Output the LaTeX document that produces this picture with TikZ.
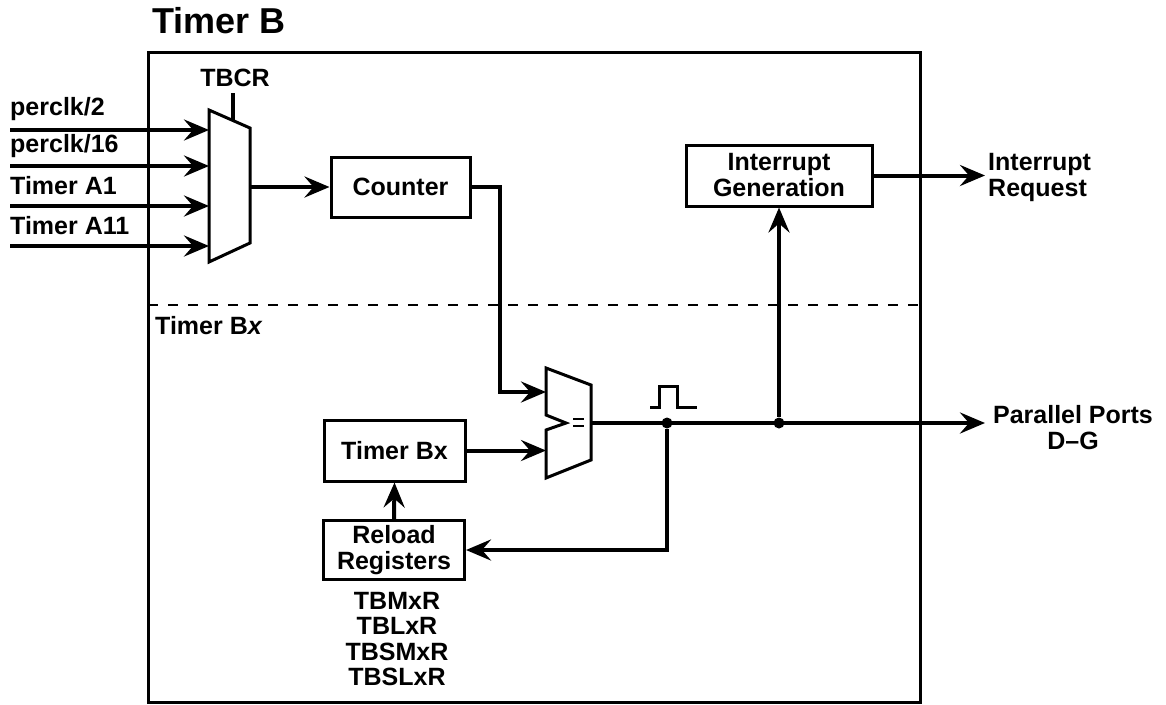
\documentclass[tikz,border=0pt]{standalone}
\usepackage{fontspec}
\setmainfont{Liberation Sans}
\usetikzlibrary{arrows.meta}
\begin{document}
\begin{tikzpicture}[x=1pt,y=-1pt,
  wire/.style={line width=4pt, line join=miter},
  arr/.style={wire, -{Stealth[length=25pt,width=21pt,inset=9pt]}},
  outline/.style={line width=3pt, line join=miter},
  box/.style={draw, line width=3pt, inner sep=0pt, align=center, font=\fontsize{25}{26}\selectfont\bfseries},
  lbl/.style={inner sep=0pt, font=\fontsize{25}{26}\selectfont\bfseries},
  jdot/.style={circle, fill, inner sep=0pt, minimum size=11pt}]
\useasboundingbox (0,0) rectangle (1166,704);
% title and frame
\node[inner sep=0pt, anchor=base west, font=\fontsize{36}{38}\selectfont\bfseries] (title) at (152,33) {Timer B};
\draw[outline] (148,52) rectangle (920,702);
\coordinate (dl) at (148,305);
\coordinate (dr) at (920,305);
\draw[line width=2pt, dash pattern=on 10pt off 10pt] (dl) -- (dr);
\node[lbl, anchor=base west] (tbx) at (155,334) {Timer B\textit{x}};
% input mux
\draw[outline] (209,110) -- (250,128) -- (250,243) -- (209,262) -- cycle;
\coordinate (sel) at (233,120);
\node[lbl, anchor=base] (tbcr) at (235,86) {TBCR};
\draw[wire] (233,93) -- (sel);
\foreach \y/\t/\b [count=\i] in {130/perclk\slash 2/115, 166/perclk\slash 16/152, 206/Timer A1/194, 246/Timer A11/234}{
  \node[lbl, anchor=base west] (lab\i) at (10,\b) {\t};
  \coordinate (src\i) at (10,\y);
  \coordinate (mi\i) at (209,\y);
  \draw[arr] (src\i) -- (mi\i);
}
\coordinate (mout) at (250,187);
% counter
\node[box, minimum width=139pt, minimum height=60pt] (counter) at (400.5,187) {Counter};
\draw[arr] (mout) -- (counter.west);
% comparator
\draw[outline] (546,368) -- (591,385) -- (591,460) -- (546,478) -- (546,430) -- (566,423) -- (546,415) -- cycle;
\draw[line width=2.5pt] (573,419) -- (584,419) (573,426) -- (584,426);
\coordinate (ca) at (546,392);
\coordinate (cb) at (546,450.5);
\coordinate (cout) at (591,423);
\coordinate (bend) at (500,392);
\draw[arr] (counter.east) -| (bend) -- (ca);
% timer Bx and reload
\node[box, minimum width=141pt, minimum height=61pt] (timerbx) at (394.5,450.5) {Timer Bx};
\draw[arr] (timerbx.east) -- (cb);
\node[box, minimum width=141pt, minimum height=59pt] (reload) at (394,550) {Reload\\Registers};
\draw[arr] (reload.north) -- (timerbx.south);
\node[lbl, anchor=north, align=center, font=\fontsize{25}{25.5}\selectfont\bfseries] (regs) at (397,592) {TBMxR\\TBLxR\\TBSMxR\\TBSLxR};
% output path
\node[jdot] (j1) at (667,423) {};
\node[jdot] (j2) at (779,423) {};
\coordinate (pp) at (985,423);
\draw[arr] (cout) -- (pp);
\node[lbl, anchor=north, align=center] (pptext) at (1073,405) {Parallel Ports\\D--G};
\draw[line width=3pt, line join=miter] (650,407) -- (659,407) -- (659,386) -- (677,386) -- (677,407) -- (697,407);
\draw[arr] (j1) |- (reload.east);
% interrupt
\node[box, minimum width=186pt, minimum height=61pt] (ig) at (779,175.5) {Interrupt\\Generation};
\draw[arr] (j2) -- (ig.south);
\coordinate (irq) at (985,175.5);
\draw[arr] (ig.east) -- (irq);
\node[lbl, anchor=north west, align=left] (irqtext) at (988,153) {Interrupt\\Request};
\end{tikzpicture}
\end{document}
